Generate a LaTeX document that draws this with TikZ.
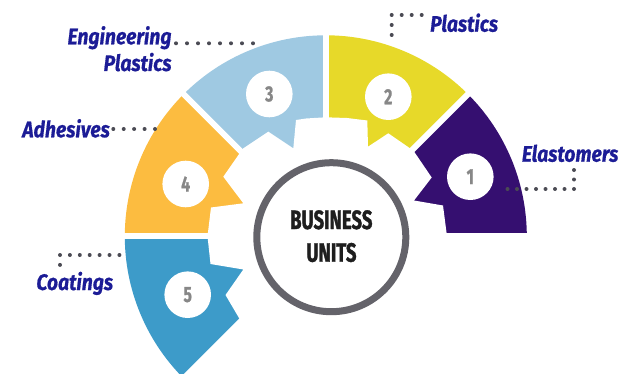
\documentclass[tikz,border=0pt]{standalone}
\usepackage{fontspec}
\newfontfamily\lblfont[FakeStretch=0.86, FakeBold=0.6]{Fira Sans}
\newfontfamily\condfont[FakeStretch=0.72, FakeBold=0.8]{Fira Sans}
\newfontfamily\ctrfont[FakeStretch=0.7, FakeBold=1.2]{Fira Sans}
\usetikzlibrary{calc}
\definecolor{segA}{RGB}{53,15,112}
\definecolor{segB}{RGB}{231,217,41}
\definecolor{segC}{RGB}{159,201,226}
\definecolor{segD}{RGB}{252,188,64}
\definecolor{segE}{RGB}{61,155,201}
\definecolor{ringgray}{RGB}{100,99,106}
\definecolor{numgray}{RGB}{135,135,135}
\definecolor{lblblue}{RGB}{28,28,150}
\definecolor{dotgray}{RGB}{75,75,84}
\definecolor{darktext}{RGB}{30,30,30}
\tikzset{
  numc/.style={circle, fill=white, minimum size=46.6pt, inner sep=0pt, text=numgray,
    font=\condfont\bfseries\fontsize{22}{22}\selectfont},
  lbl/.style={inner sep=0pt, text=lblblue, font=\lblfont\bfseries\itshape\fontsize{22.5}{22.5}\selectfont},
  centertext/.style={inner sep=0pt, text=darktext, font=\ctrfont\bfseries\fontsize{26.5}{26.5}\selectfont},
  dotline/.style={line width=4pt, line cap=round, dash pattern=on 0pt off #1, draw=dotgray},
  sep/.style={draw=white, line width=6pt}
}
\begin{document}
\begin{tikzpicture}[x=1pt,y=1pt,yscale=-1]
\useasboundingbox (0,0) rectangle (620,374);
\coordinate (C) at (325.8,236.3);
% ring sectors
\fill[segA] (C) -- ($(C)+(0:201)$) arc[start angle=0, end angle=-45, radius=201pt] -- cycle;
\fill[segB] (C) -- ($(C)+(-45:201)$) arc[start angle=-45, end angle=-90, radius=201pt] -- cycle;
\fill[segC] (C) -- ($(C)+(-90:201)$) arc[start angle=-90, end angle=-135, radius=201pt] -- cycle;
\fill[segD] (C) -- ($(C)+(-135:201)$) arc[start angle=-135, end angle=-180, radius=201pt] -- cycle;
\fill[segE] (C) -- ($(C)+(-180:201)$) arc[start angle=-180, end angle=-225, radius=201pt] -- cycle;
% white gear
\fill[white] (C) -- (447,236.3) -- (443,205.5) -- (414,200.5) -- (431.7,177.5) -- (413,150)
  -- (410,148.3) -- (388.3,133.3) -- (368,146.7) -- (367.3,120.5) -- (347,118) -- (325.8,117.3)
  -- (306,118.5) -- (296,120) -- (293.3,148.3) -- (268.3,131.7) -- (243.3,148.3)
  -- (240.5,152) -- (223.3,176.7) -- (243.3,203.3) -- (211,207.5) -- (207.5,236.3)
  -- (210.5,264) -- (243.3,269.5) -- (225.5,295) -- (240.9,321.2) -- cycle;
% separators
\foreach \a in {0,-45,-90,-135,-180,-225} \draw[sep] (C) -- ++(\a:215);
% number circles
\node[numc] (n1) at (470.3,176.7) {1};
\node[numc] (n2) at (388.3,96.7) {2};
\node[numc] (n3) at (269.3,94) {3};
\node[numc] (n4) at (185.7,184) {4};
\node[numc] (n5) at (187.7,294.7) {5};
% central circle
\node[circle, draw=ringgray, line width=7pt, fill=white, minimum size=149pt, inner sep=0pt] (cc) at (331.3,237.2) {};
\node[centertext, anchor=base] (bt1) at (331.3,229) {BUSINESS};
\node[centertext, anchor=base] (bt2) at (331.5,261.7) {UNITS};
% labels
\node[lbl, anchor=base east] (eng1) at (171.7,44.3) {Engineering};
\node[lbl, anchor=base east] (eng2) at (171.7,71) {Plastics};
\node[lbl, anchor=base east] (adh) at (110,137.3) {Adhesives};
\node[lbl, anchor=base west] (pla) at (430,31.7) {Plastics};
\node[lbl, anchor=base west] (ela) at (521.7,161.7) {Elastomers};
\node[lbl, anchor=base east] (coa) at (113.3,290) {Coatings};
% dotted connectors
\coordinate (engA) at (176,43.3); \coordinate (engB) at (264,43.3);
\draw[dotline=11pt] (engA) -- (engB);
\coordinate (adhA) at (113.3,129); \coordinate (adhB) at (155,129);
\draw[dotline=10.42pt] (adhA) -- (adhB);
\coordinate (plaA) at (421.7,15); \coordinate (plaK) at (391.7,15); \coordinate (plaB) at (391.7,45);
\draw[dotline=10pt] (plaA) -- (plaK) -- (plaB);
\coordinate (elaA) at (574,170); \coordinate (elaK) at (574,189); \coordinate (elaB) at (507.5,189);
\draw[dotline=9.5pt] (elaA) -- (elaK) -- (elaB);
\coordinate (coaA) at (60,264.9); \coordinate (coaK) at (60,255); \coordinate (coaB) at (119.4,255);
\draw[dotline=9.9pt] (coaA) -- (coaK) -- (coaB);
\end{tikzpicture}
\end{document}
